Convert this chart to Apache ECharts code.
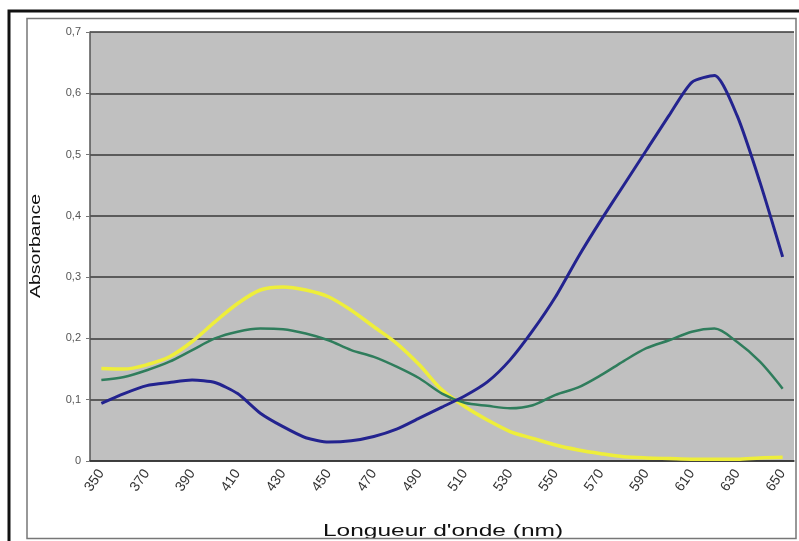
<!DOCTYPE html>
<html>
<head>
<meta charset="utf-8">
<script src="https://cdn.jsdelivr.net/npm/echarts@6/dist/echarts.min.js"></script>
<style>
  html, body { margin: 0; padding: 0; background: #fff; }
  #app { width: 799px; height: 541px; }
</style>
</head>
<body>
<div id="app"></div>
<script>
// wavelength categories (nm)
const wavelengths = [350, 360, 370, 380, 390, 400, 410, 420, 430, 440, 450, 460, 470, 480, 490, 500,
  510, 520, 530, 540, 550, 560, 570, 580, 590, 600, 610, 620, 630, 640, 650];

// absorbance
const blueSerie = [0.094, 0.110, 0.123, 0.128, 0.132, 0.128, 0.110, 0.078, 0.056, 0.038, 0.031, 0.033,
  0.040, 0.052, 0.070, 0.088, 0.106, 0.129, 0.165, 0.213, 0.268, 0.333, 0.393, 0.450, 0.507, 0.564,
  0.618, 0.629, 0.563, 0.455, 0.333];
const greenSerie = [0.132, 0.137, 0.148, 0.162, 0.181, 0.200, 0.211, 0.216, 0.215, 0.208, 0.197, 0.181,
  0.170, 0.154, 0.135, 0.110, 0.095, 0.090, 0.086, 0.091, 0.108, 0.120, 0.140, 0.163, 0.184, 0.197,
  0.211, 0.216, 0.194, 0.162, 0.118];
const yellowSerie = [0.151, 0.150, 0.157, 0.170, 0.195, 0.227, 0.257, 0.279, 0.284, 0.279, 0.268, 0.246,
  0.219, 0.192, 0.157, 0.116, 0.089, 0.067, 0.048, 0.037, 0.026, 0.018, 0.012, 0.007, 0.005, 0.004,
  0.003, 0.003, 0.003, 0.005, 0.006];

const font = "Liberation Sans, Arial, sans-serif";

function line(data, color, width, smooth) {
  return {
    type: "line",
    data,
    smooth,
    symbol: "none",
    lineStyle: { color, width },
    z: 3
  };
}

const chart = echarts.init(document.getElementById("app"));
chart.setOption({
  animation: false,
  backgroundColor: "#fff",
  textStyle: { fontFamily: font },
  graphic: [
    { type: "text", x: 443, y: 531, scaleX: 1.44, z: 1,
      style: { text: "Longueur d'onde (nm)", font: "17px " + font, fill: "#111",
        align: "center", verticalAlign: "middle" } },
    { type: "text", x: 36, y: 246, rotation: Math.PI / 2, scaleX: 1.3, z: 1,
      style: { text: "Absorbance", font: "15px " + font, fill: "#111",
        align: "center", verticalAlign: "middle" } },
    // outer black frame (runs off the picture on the right and bottom)
    { type: "rect", z: 10, shape: { x: 9, y: 11, width: 820, height: 560 },
      style: { fill: null, stroke: "#111", lineWidth: 3 }, silent: true },
    // inner chart area frame
    { type: "rect", z: 10, shape: { x: 27, y: 18.5, width: 769, height: 520 },
      style: { fill: null, stroke: "#777", lineWidth: 1.5 }, silent: true }
  ],
  grid: {
    left: 90, top: 32, right: 5, bottom: 80,
    show: true, backgroundColor: "#c0c0c0", borderWidth: 0
  },
  xAxis: {
    type: "category",
    data: wavelengths,
    boundaryGap: true,
    axisLine: { lineStyle: { color: "#333", width: 1.5 } },
    axisTick: { interval: 0, length: 4, lineStyle: { color: "#333" } },
    axisLabel: { interval: 1, rotate: 55, color: "#333", fontSize: 14, margin: 10 },
    splitLine: { show: false }
  },
  yAxis: {
    type: "value",
    min: 0, max: 0.7, interval: 0.1,
    axisLine: { show: true, lineStyle: { color: "#555", width: 1.5 } },
    axisTick: { show: true, length: 4, lineStyle: { color: "#777" } },
    axisLabel: {
      color: "#555", fontSize: 11, margin: 9,
      formatter: v => String(Math.round(v * 10) / 10).replace(".", ",")
    },
    splitLine: { lineStyle: { color: "#3a3a3a", width: 1.5 } }
  },
  series: [
    line(yellowSerie, "#eeee3a", 3.5, 0.3),
    line(greenSerie, "#2f7d5c", 2.5, 0.3),
    line(blueSerie, "#23238f", 3, 0.22)
  ]
});
</script>
</body>
</html>
